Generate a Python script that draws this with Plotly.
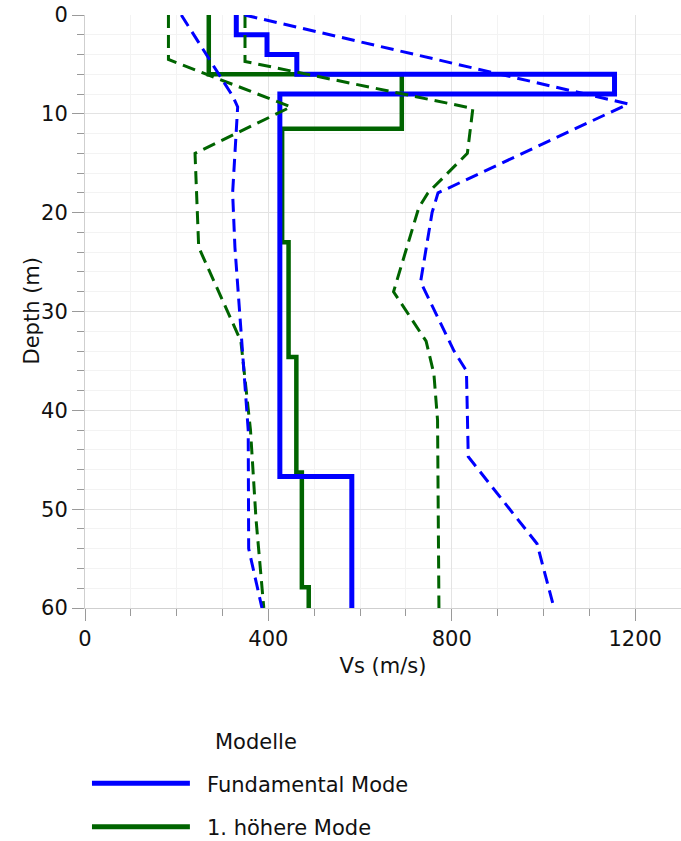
import plotly.graph_objects as go

# ---------------- data ----------------
# Step models: layer top depths (m) and shear-wave velocities (m/s)
fund_tops = [0, 2, 4, 6, 8, 46.7]
fund_vs = [330, 397, 462, 1155, 425, 582]

high_tops = [0, 6, 11.5, 23, 34.6, 46.3, 57.9]
high_vs = [270, 691, 430, 444, 461, 473, 488]

max_depth = 60

# Bounds (dashed) of the Fundamental Mode
fund_min_depth = [0, 8.2, 9.3, 14, 18, 23.5, 34, 42, 54, 60]
fund_min_vs = [210, 322, 333, 327, 322, 327, 344, 356, 357, 386]
fund_max_depth = [0, 9, 18, 20, 27, 34, 36, 44.7, 53.5, 60]
fund_max_vs = [348, 1185, 770, 757, 732, 805, 832, 836, 986, 1023]

# Bounds (dashed) of the 1. higher mode
high_min_depth = [0, 4.5, 9.3, 14, 23.5, 33, 42, 51, 60]
high_min_vs = [182, 182, 449, 240, 248, 340, 361, 373, 390]
high_max_depth = [0, 4.7, 9.45, 14, 18, 19.5, 28, 33, 36.3, 41, 60]
high_max_vs = [349, 349, 846, 834, 748, 728, 673, 744, 761, 769, 772]

legend_title = "Modelle"
names = ["Fundamental Mode", "1. höhere Mode"]

BLUE = "#0000ff"
GREEN = "#006400"
FONT = "DejaVu Sans"
TXT = "#111"

fig = go.Figure()

# solid step models (green under blue)
fig.add_trace(go.Scatter(x=high_vs + [high_vs[-1]], y=high_tops + [max_depth],
                         mode="lines", line=dict(color=GREEN, width=4.5, shape="vh"),
                         name=names[1], showlegend=False))
fig.add_trace(go.Scatter(x=fund_vs + [fund_vs[-1]], y=fund_tops + [max_depth],
                         mode="lines", line=dict(color=BLUE, width=5, shape="vh"),
                         name=names[0], showlegend=False))

dash = "13px,7px"
fig.add_trace(go.Scatter(x=high_min_vs, y=high_min_depth, mode="lines",
                         line=dict(color=GREEN, width=3, dash=dash), showlegend=False))
fig.add_trace(go.Scatter(x=high_max_vs, y=high_max_depth, mode="lines",
                         line=dict(color=GREEN, width=3, dash=dash), showlegend=False))
fig.add_trace(go.Scatter(x=fund_min_vs, y=fund_min_depth, mode="lines",
                         line=dict(color=BLUE, width=3, dash=dash), showlegend=False))
fig.add_trace(go.Scatter(x=fund_max_vs, y=fund_max_depth, mode="lines",
                         line=dict(color=BLUE, width=3, dash=dash), showlegend=False))

axis_common = dict(
    showgrid=True, gridcolor="#e3e3e3", gridwidth=1,
    ticks="outside", ticklen=12, tickcolor="#9a9a9a", tickwidth=1,
    showline=True, linecolor="#cfcfcf", linewidth=1,
    zeroline=False,
    tickfont=dict(family=FONT, size=21, color=TXT),
)

fig.update_layout(
    width=681, height=841,
    margin=dict(l=85, r=0, t=15, b=233),
    paper_bgcolor="white", plot_bgcolor="white",
    font=dict(family=FONT, size=21, color=TXT),
    showlegend=False,
    xaxis=dict(range=[0, 1300], tick0=0, dtick=400,
               minor=dict(dtick=100, ticklen=7, tickcolor="#9a9a9a", ticks="outside",
                          showgrid=True, gridcolor="#f3f3f3"),
               title=dict(text="Vs (m/s)", standoff=8,
                          font=dict(family=FONT, size=21, color=TXT)),
               **axis_common),
    yaxis=dict(range=[60, 0], tick0=0, dtick=10,
               minor=dict(dtick=2, ticklen=7, tickcolor="#9a9a9a", ticks="outside",
                          showgrid=True, gridcolor="#f3f3f3"),
               **axis_common),
)

# y-axis title placed precisely
fig.add_annotation(text="Depth (m)", xref="paper", yref="paper", x=-0.0906, y=0.5,
                   xanchor="center", yanchor="middle", textangle=-90, showarrow=False,
                   font=dict(family=FONT, size=21, color=TXT))

# manual legend (long line samples like the reference)
legend_rows = [(-0.2956, BLUE, names[0]), (-0.3688, GREEN, names[1])]
fig.add_annotation(text=legend_title, xref="paper", yref="paper", x=0.2148, y=-0.2255,
                   xanchor="left", yanchor="middle", showarrow=False,
                   font=dict(family=FONT, size=21, color=TXT))
for yy, col, nm in legend_rows:
    fig.add_shape(type="line", xref="paper", yref="paper", x0=0.0117, x1=0.176,
                  y0=yy, y1=yy, line=dict(color=col, width=5))
    fig.add_annotation(text=nm, xref="paper", yref="paper", x=0.2013, y=yy - 0.003,
                       xanchor="left", yanchor="middle", showarrow=False,
                       font=dict(family=FONT, size=21, color=TXT))

fig.write_html("out.html", config={"displayModeBar": False},
               post_script="document.body.style.margin='0px';document.body.style.overflow='hidden';")
